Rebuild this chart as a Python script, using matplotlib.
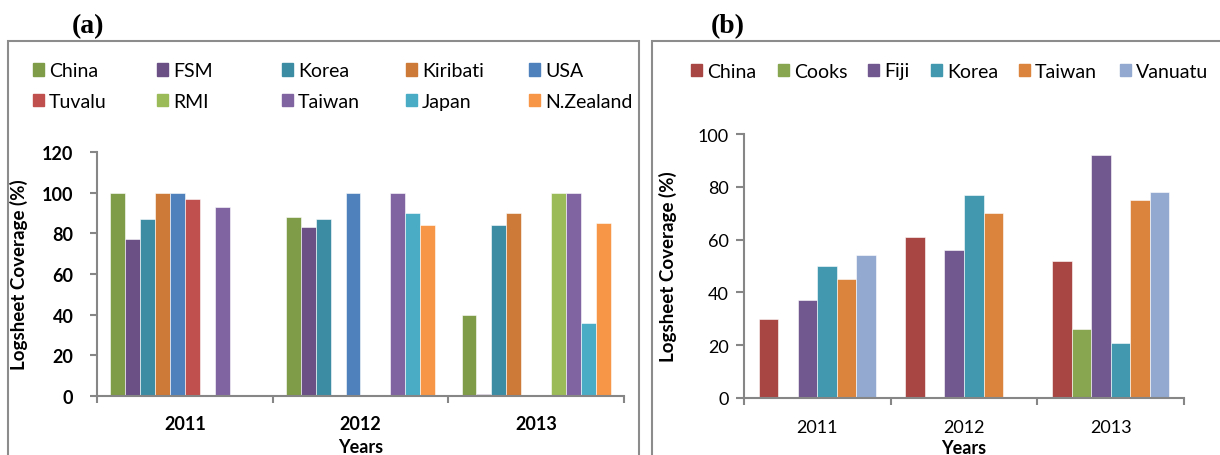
import matplotlib.pyplot as plt
import numpy as np
from matplotlib.patches import Rectangle, Patch

W, H = 1220, 456
years = ['2011', '2012', '2013']

# panel (a)
fleets_a = ['China', 'FSM', 'Korea', 'Kiribati', 'USA',
            'Tuvalu', 'RMI', 'Taiwan', 'Japan', 'N.Zealand']
colors_a = ['#7F9C48', '#6A5085', '#3C8CA4', '#CD7A38', '#4F81BD',
            '#C0504D', '#9BBB59', '#8064A2', '#4BACC6', '#F79646']
values_a = {
    'China':     [100, 88, 40],
    'FSM':       [77, 83, 1],
    'Korea':     [87, 87, 84],
    'Kiribati':  [100, 0, 90],
    'USA':       [100, 100, 0],
    'Tuvalu':    [97, 0, 0],
    'RMI':       [0, 0, 100],
    'Taiwan':    [93, 100, 100],
    'Japan':     [0, 90, 36],
    'N.Zealand': [0, 84, 85],
}

# panel (b)
fleets_b = ['China', 'Cooks', 'Fiji', 'Korea', 'Taiwan', 'Vanuatu']
colors_b = ['#A84644', '#88A54F', '#71588F', '#4198AF', '#DB843D', '#93A9D0']
values_b = {
    'China':   [30, 61, 52],
    'Cooks':   [0, 0, 26],
    'Fiji':    [37, 56, 92],
    'Korea':   [50, 77, 21],
    'Taiwan':  [45, 70, 75],
    'Vanuatu': [54, 0, 78],
}

plt.rcParams['font.family'] = ['Lato', 'DejaVu Sans']
fig = plt.figure(figsize=(W / 100, H / 100), dpi=100)

LEG_FS = 14


def px_axes(left, right, bottom, top):
    return fig.add_axes([left / W, 1 - bottom / H, (right - left) / W, (bottom - top) / H])


def style_axes(ax, bold, ymax, ystep, ticklen, pad, xpad, years_top):
    weight = 'bold' if bold else 'normal'
    x = np.arange(len(years))
    ax.set_xlim(-0.5, len(years) - 0.5)
    ax.set_ylim(0, ymax)
    ax.set_yticks(np.arange(0, ymax + 1, ystep))
    ax.set_xticks(np.arange(-0.5, len(years)))
    ax.set_xticklabels([])
    ax.set_xticks(x, minor=True)
    ax.set_xticklabels(years, minor=True, fontweight=weight, fontsize=13)
    ax.tick_params(axis='x', which='minor', length=0, pad=xpad)
    ax.tick_params(axis='x', which='major', length=5, color='#868686', width=1.5)
    ax.tick_params(axis='y', length=ticklen, color='#868686', width=1.5, pad=pad, labelsize=13)
    for t in ax.get_yticklabels():
        t.set_fontweight(weight)
    for s in ['top', 'right']:
        ax.spines[s].set_visible(False)
    for s in ['left', 'bottom']:
        ax.spines[s].set_color('#868686')
        ax.spines[s].set_linewidth(1.5)
    ax.set_xlabel('Years', fontweight='bold', fontsize=13, va='top')
    bbox = ax.get_position()
    ax.xaxis.set_label_coords(0.5, -(years_top - (1 - bbox.y0) * H) / (bbox.height * H))
    ax.set_ylabel('Logsheet Coverage (%)', fontweight='bold', fontsize=13.5)


def legend_column(handles, x_px, y_px):
    fig.legend(handles=handles, loc='center left', bbox_to_anchor=(x_px / W, 1 - y_px / H),
               frameon=False, fontsize=LEG_FS, handlelength=0.58, handleheight=0.58,
               handletextpad=0.25, labelspacing=0.68, borderpad=0, borderaxespad=0)


# ---- panel (a)
ax_a = px_axes(97, 624, 397, 153)
x = np.arange(len(years))
wa = 0.085
n = len(fleets_a)
for i, (name, c) in enumerate(zip(fleets_a, colors_a)):
    ax_a.bar(x + (i - (n - 1) / 2) * wa, values_a[name], width=wa, color=c,
             edgecolor='white', linewidth=0.4)
style_axes(ax_a, True, 120, 20, 5, 12, 14, 439)
ax_a.yaxis.set_label_coords(-0.131, 0.5)

handles_a = [Patch(color=c, label=f) for f, c in zip(fleets_a, colors_a)]
col_x_a = [33, 157, 282, 406, 529]
for j, cx in enumerate(col_x_a):
    legend_column([handles_a[j], handles_a[j + 5]], cx, 87)

# ---- panel (b)
ax_b = px_axes(744, 1184, 399, 135)
wb = 0.8 / len(fleets_b)
n = len(fleets_b)
for i, (name, c) in enumerate(zip(fleets_b, colors_b)):
    ax_b.bar(x + (i - (n - 1) / 2) * wb, values_b[name], width=wb, color=c,
             edgecolor='white', linewidth=0.4)
style_axes(ax_b, False, 100, 20, 6, 5, 15, 440)
ax_b.yaxis.set_label_coords(-0.152, 0.5)

handles_b = [Patch(color=c, label=f) for f, c in zip(fleets_b, colors_b)]
col_x_b = [691, 778, 868, 931, 1019, 1120]
for h, cx in zip(handles_b, col_x_b):
    legend_column([h], cx, 72)

# panel frames and letters
fig.patches.append(Rectangle((8 / W, -0.05), 631 / W, 1.05 - 42 / H, transform=fig.transFigure,
                             fill=False, edgecolor='#8C8C8C', linewidth=1.5))
fig.patches.append(Rectangle((652 / W, -0.05), 0.5, 1.05 - 42 / H, transform=fig.transFigure,
                             fill=False, edgecolor='#8C8C8C', linewidth=1.5))
fig.text(88 / W, 1 - 27 / H, '(a)', ha='center', va='center', fontsize=20,
         fontweight='bold', family='Liberation Serif')
fig.text(728 / W, 1 - 27 / H, '(b)', ha='center', va='center', fontsize=20,
         fontweight='bold', family='Liberation Serif')

fig.savefig('out.png', dpi=100)
